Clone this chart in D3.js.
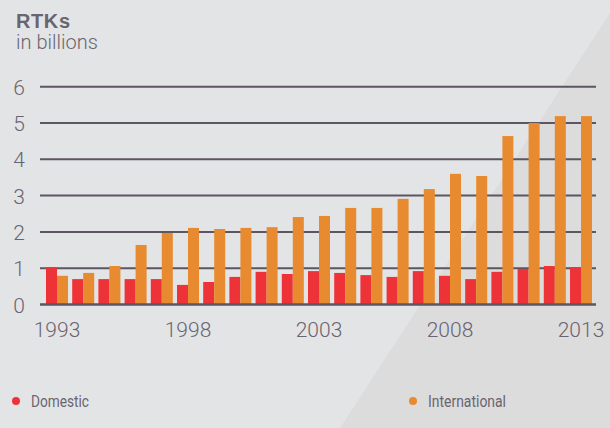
<!DOCTYPE html>
<html lang="en">
  <head>
    <meta charset="UTF-8" />
    <title>RTKs</title>
    <script src="https://d3js.org/d3.v7.min.js"></script>
    <style>
      body { margin: 0; background: #e3e4e6; }
      svg { display: block; }
    </style>
  </head>
  <body>
    <svg></svg>
    <script>
      var width = 610;
      var height = 428;

      // data
      var years = d3.range(1993, 2014);
      var domestic = [1.03, 0.70, 0.70, 0.70, 0.70, 0.54, 0.62, 0.76, 0.90, 0.84,
                      0.92, 0.87, 0.81, 0.76, 0.92, 0.79, 0.70, 0.90, 0.98, 1.06, 1.03];
      var international = [0.79, 0.87, 1.06, 1.64, 1.97, 2.11, 2.08, 2.11, 2.13, 2.41,
                           2.44, 2.66, 2.66, 2.91, 3.18, 3.60, 3.54, 4.64, 5.00, 5.19, 5.19];
      var yTicks = [0, 1, 2, 3, 4, 5, 6];
      var yearLabels = [1993, 1998, 2003, 2008, 2013];

      var textColor = "#6a6470";
      var gridColor = "#5e5562";
      var red = "#ee3338";
      var orange = "#e88a2f";
      var labelFont = "Roboto, 'Liberation Sans', Arial, sans-serif";

      var svg = d3.select("svg").attr("width", width).attr("height", height);

      // background with darker diagonal corner
      svg.append("rect").attr("width", width).attr("height", height).attr("fill", "#e3e4e6");
      svg.append("polygon")
        .attr("points", "610,13 610,428 340,428")
        .attr("fill", "#dcdcdd");

      var y = d3.scaleLinear().domain([0, 6]).range([304.5, 86.7]);

      var x = d3.scaleBand()
        .domain(years)
        .range([46, 592])
        .paddingInner(0.16)
        .paddingOuter(0);

      var x1 = d3.scaleBand()
        .domain(["d", "i"])
        .range([0, x.bandwidth()]);

      // title
      svg.append("text")
        .attr("x", 16).attr("y", 28)
        .style("font", "bold 20px 'Liberation Sans', Arial, sans-serif")
        .style("fill", textColor)
        .attr("textLength", 54)
        .text("RTKs");
      svg.append("text")
        .attr("x", 16).attr("y", 49)
        .style("font-family", labelFont)
        .style("font-weight", 300)
        .style("font-size", "20px")
        .style("fill", textColor)
        .attr("textLength", 82)
        .text("in billions");

      // grid lines
      svg.append("g")
        .selectAll("line")
        .data(yTicks.filter((d) => d > 0))
        .join("line")
        .attr("x1", 40).attr("x2", 596)
        .attr("y1", (d) => y(d)).attr("y2", (d) => y(d))
        .style("stroke", gridColor)
        .style("stroke-width", 2);

      // y labels
      svg.append("g")
        .selectAll("text")
        .data(yTicks)
        .join("text")
        .attr("x", 25)
        .attr("y", (d) => y(d) + 8)
        .attr("text-anchor", "end")
        .style("font-family", labelFont)
        .style("font-weight", 300)
        .style("font-size", "21px")
        .style("fill", textColor)
        .text((d) => d);

      // bars
      var groups = svg.append("g")
        .selectAll("g")
        .data(years)
        .join("g")
        .attr("transform", (d) => `translate(${x(d)},0)`);

      groups.append("rect")
        .attr("x", x1("d"))
        .attr("y", (d, i) => y(domestic[i]))
        .attr("width", x1.bandwidth())
        .attr("height", (d, i) => y(0) - y(domestic[i]))
        .style("fill", red);

      groups.append("rect")
        .attr("x", x1("i"))
        .attr("y", (d, i) => y(international[i]))
        .attr("width", x1.bandwidth())
        .attr("height", (d, i) => y(0) - y(international[i]))
        .style("fill", orange);

      // zero line
      svg.append("line")
        .attr("x1", 40).attr("x2", 596)
        .attr("y1", y(0)).attr("y2", y(0))
        .style("stroke", gridColor)
        .style("stroke-width", 2.5);

      // year labels
      svg.append("g")
        .selectAll("text")
        .data(yearLabels)
        .join("text")
        .attr("x", (d) => x(d) + x.bandwidth() / 2)
        .attr("y", 337)
        .attr("text-anchor", "middle")
        .style("font-family", labelFont)
        .style("font-weight", 300)
        .style("font-size", "21px")
        .style("fill", textColor)
        .text((d) => d);

      // legend
      var legend = [
        { name: "Domestic", color: red, x: 16, w: 58 },
        { name: "International", color: orange, x: 413, w: 78 },
      ];
      var lg = svg.append("g")
        .selectAll("g")
        .data(legend)
        .join("g")
        .attr("transform", (d) => `translate(${d.x},401)`);
      lg.append("circle").attr("r", 4).style("fill", (d) => d.color);
      lg.append("text")
        .attr("x", 15).attr("y", 6)
        .attr("textLength", (d) => d.w)
        .attr("lengthAdjust", "spacingAndGlyphs")
        .style("font-family", labelFont)
        .style("font-size", "17px")
        .style("fill", textColor)
        .text((d) => d.name);
    </script>
  </body>
</html>
